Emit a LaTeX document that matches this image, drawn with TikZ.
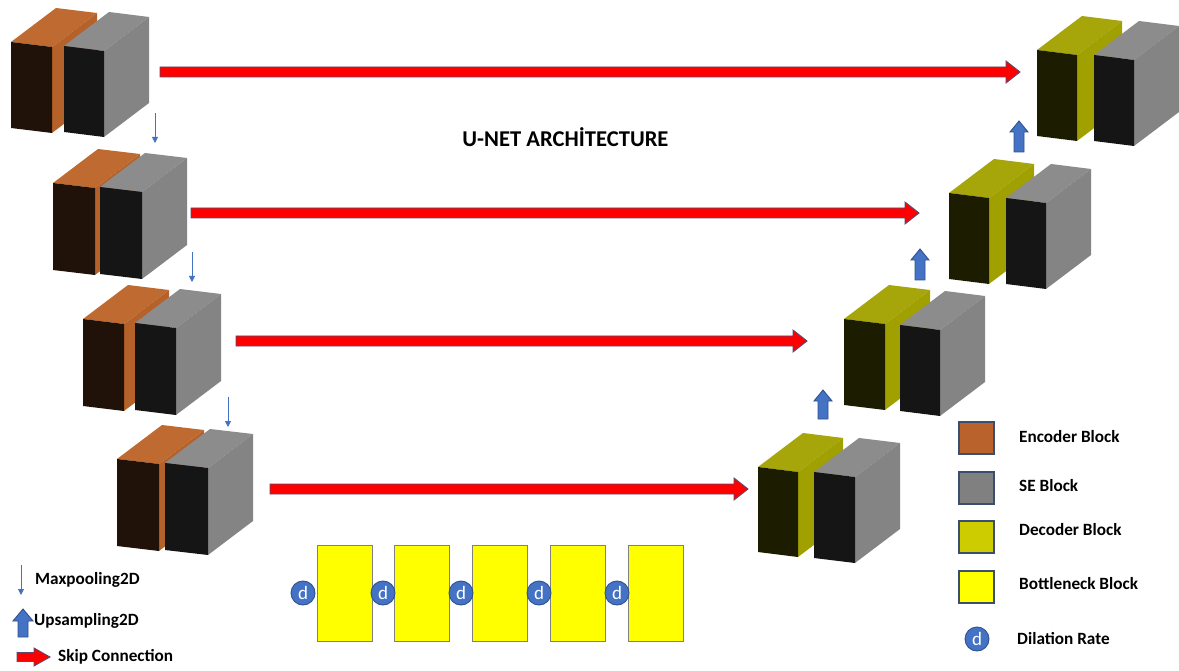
\documentclass[tikz,border=0pt]{standalone}
\usepackage{fontspec}
\setmainfont{Carlito}
\usetikzlibrary{calc,arrows.meta}
\definecolor{encF}{HTML}{201208}
\definecolor{encT}{HTML}{BF6A30}
\definecolor{encS}{HTML}{B5622A}
\definecolor{seF}{HTML}{151515}
\definecolor{seT}{HTML}{8C8C8C}
\definecolor{seS}{HTML}{848484}
\definecolor{decF}{HTML}{1C1C00}
\definecolor{decT}{HTML}{A6A50A}
\definecolor{decS}{HTML}{A0A000}
\definecolor{blueA}{HTML}{4472C4}
\definecolor{blueB}{HTML}{2F528F}
\definecolor{legEnc}{HTML}{B9622B}
\definecolor{legDec}{HTML}{CCCC00}
\definecolor{legBorder}{HTML}{3B4E6E}
\definecolor{redB}{HTML}{5A4A70}
\definecolor{bYel}{HTML}{FFFF00}
% x y w h front top side
\newcommand\cuboid[7]{%
  \fill[#6] (#1,#2) -- ++(45,-34) -- ++(#3,5) -- ++(-45,34) -- cycle;
  \fill[#7] (#1,#2) ++(#3,5) -- ++(45,-34) -- ++(0,#4) -- ++(-45,34) -- cycle;
  \fill[#5] (#1,#2) -- ++(#3,5) -- ++(0,#4) -- ++(-#3,-5) -- cycle;
}
% from, to, shaft half, head half, head length
\newcommand\fatright[5]{%
  \draw[skip] let \p1=(#1), \p2=(#2) in
    (\x1,\y1+#3pt) -- (\x2-#5pt,\y1+#3pt) -- (\x2-#5pt,\y1+#4pt) -- (\x2,\y1)
    -- (\x2-#5pt,\y1-#4pt) -- (\x2-#5pt,\y1-#3pt) -- (\x1,\y1-#3pt) -- cycle;}
\newcommand\fatup[5]{%
  \draw[ups] let \p1=(#1), \p2=(#2) in
    (\x1-#3pt,\y1) -- (\x1-#3pt,\y2-#5pt) -- (\x1-#4pt,\y2-#5pt) -- (\x1,\y2)
    -- (\x1+#4pt,\y2-#5pt) -- (\x1+#3pt,\y2-#5pt) -- (\x1+#3pt,\y1) -- cycle;}
\tikzset{
  skip/.style={fill=red, draw=redB, line width=0.9pt, line join=miter},
  ups/.style={fill=blueA, draw=blueB, line width=0.9pt},
  pool/.style={draw=blueA, line width=0.9pt, -{Triangle[length=6pt,width=6pt]}},
  bneck/.style={draw=gray, line width=0.9pt, fill=bYel, minimum width=55pt, minimum height=96pt, inner sep=0pt},
  dil/.style={circle, fill=blueA, draw=blueB, line width=0.9pt, minimum size=24pt, inner sep=0pt, text=white, font=\fontsize{19}{19}\selectfont},
  legsq/.style={draw=legBorder, line width=1.2pt, minimum width=35pt, minimum height=32pt, inner sep=0pt},
  lab/.style={anchor=west, inner sep=0pt, font=\fontsize{17.2}{19}\selectfont\bfseries},
}
\begin{document}
\begin{tikzpicture}[x=1pt,y=-1pt]
\useasboundingbox (0,0) rectangle (1179,671);
\fill[white] (0,0) rectangle (1179,671);

% encoder side
\cuboid{11}{42}{41}{86}{encF}{encT}{encS}
\cuboid{64}{46}{40}{86}{seF}{seT}{seS}
\cuboid{53}{183}{42}{87}{encF}{encT}{encS}
\cuboid{100}{187}{42}{87}{seF}{seT}{seS}
\cuboid{83}{319}{41}{87}{encF}{encT}{encS}
\cuboid{135}{323}{41}{87}{seF}{seT}{seS}
\cuboid{117}{459}{42}{87}{encF}{encT}{encS}
\cuboid{165}{463}{43}{87}{seF}{seT}{seS}

% decoder side
\cuboid{1037}{50}{40}{86}{decF}{decT}{decS}
\cuboid{1094}{55}{40}{86}{seF}{seT}{seS}
\cuboid{949}{193}{40}{86}{decF}{decT}{decS}
\cuboid{1006}{198}{40}{86}{seF}{seT}{seS}
\cuboid{844}{319}{41}{86}{decF}{decT}{decS}
\cuboid{900}{325}{40}{86}{seF}{seT}{seS}
\cuboid{758}{467}{40}{85}{decF}{decT}{decS}
\cuboid{814}{472}{41}{86}{seF}{seT}{seS}

% connector end points
\coordinate (e1) at (160,72);  \coordinate (d1) at (1020,72);
\coordinate (e2) at (191,213); \coordinate (d2) at (919,213);
\coordinate (e3) at (236,341); \coordinate (d3) at (807,341);
\coordinate (e4) at (270,489); \coordinate (d4) at (748,489);

\fatright{e1}{d1}{5}{11}{14}
\fatright{e2}{d2}{5}{11}{14}
\fatright{e3}{d3}{5}{11}{14}
\fatright{e4}{d4}{5}{11}{14}

% maxpooling
\coordinate (p1a) at (155,113); \coordinate (p1b) at (155,143);
\coordinate (p2a) at (192,252); \coordinate (p2b) at (192,282);
\coordinate (p3a) at (228,397); \coordinate (p3b) at (228,427);
\draw[pool] (p1a) -- (p1b);
\draw[pool] (p2a) -- (p2b);
\draw[pool] (p3a) -- (p3b);

% upsampling
\coordinate (u1a) at (1019,152); \coordinate (u1b) at (1019,121);
\coordinate (u2a) at (920,280);  \coordinate (u2b) at (920,249);
\coordinate (u3a) at (823,419);  \coordinate (u3b) at (823,390);
\fatup{u1a}{u1b}{5}{9}{11}
\fatup{u2a}{u2b}{5}{9}{11}
\fatup{u3a}{u3b}{5}{9}{11}

% title
\node[inner sep=0pt, font=\fontsize{22.6}{24}\selectfont\bfseries] (title) at (565.5,137) {U-NET ARCHİTECTURE};

% bottleneck
\node[bneck] (b1) at (344.5,593) {};
\node[bneck] (b2) at (422,593) {};
\node[bneck] (b3) at (500,593) {};
\node[bneck] (b4) at (578,593) {};
\node[bneck] (b5) at (656,593) {};
\node[dil] (c1) at (303,593) {d};
\node[dil] (c2) at (383,593) {d};
\node[dil] (c3) at (461,593) {d};
\node[dil] (c4) at (539,593) {d};
\node[dil] (c5) at (617,593) {d};

% right legend
\node[legsq, fill=legEnc] (l1) at (976.5,438) {};
\node[legsq, fill=gray] (l2) at (976.5,488) {};
\node[legsq, fill=legDec] (l3) at (976.5,537) {};
\node[legsq, fill=bYel] (l4) at (976.5,587) {};
\node[dil] (l5) at (977,639) {d};
\node[lab] (t1) at (1019,437) {Encoder Block};
\node[lab] (t2) at (1019,486) {SE Block};
\node[lab] (t3) at (1019,530) {Decoder Block};
\node[lab] (t4) at (1019,584) {Bottleneck Block};
\node[lab] (t5) at (1017,639) {Dilation Rate};

% left legend
\coordinate (m1) at (21,565); \coordinate (m2) at (21,595);
\draw[pool] (m1) -- (m2);
\node[lab] (t6) at (35,580) {Maxpooling2D};
\coordinate (s1) at (23,637); \coordinate (s2) at (23,609);
\fatup{s1}{s2}{5}{10}{12}
\node[lab] (t7) at (34,621) {Upsampling2D};
\coordinate (r1) at (17,657); \coordinate (r2) at (50,657);
\fatright{r1}{r2}{4.5}{9}{16}
\node[lab] (t8) at (58,657) {Skip Connection};
\end{tikzpicture}
\end{document}
